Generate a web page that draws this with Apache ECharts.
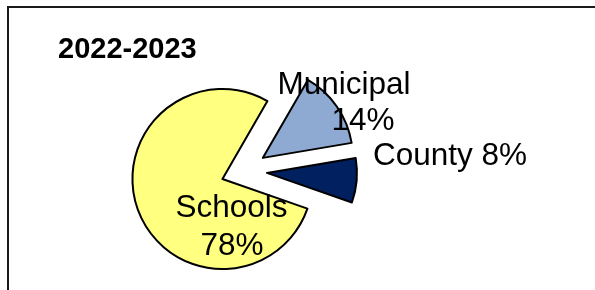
<!DOCTYPE html>
<html><head><meta charset="utf-8">
<script src="https://cdn.jsdelivr.net/npm/echarts@6/dist/echarts.min.js"></script>
<style>html,body{margin:0;padding:0;background:#fff}#c{width:595px;height:290px}</style>
</head><body><div id="c"></div>
<script>
const categories = ['Municipal', 'County', 'Schools'];
const shares = [14, 8, 78];
const sliceColors = ['#8EAAD2', '#002060', '#FFFF80'];
const titleText = '2022-2023';

const FONT = '"Liberation Sans", Arial, sans-serif';
// label line anchors (centre x, middle y) for each category; Municipal/Schools wrap to two lines
const labelLines = {
  Municipal: [[344, 85], [363, 121]],
  County: [[450, 156]],
  Schools: [[231.5, 208.5], [232, 246]]
};

const labelGraphics = [];
categories.forEach(function (c, i) {
  const pos = labelLines[c];
  const texts = pos.length === 2 ? [c, shares[i] + '%'] : [c + ' ' + shares[i] + '%'];
  texts.forEach(function (t, k) {
    labelGraphics.push({
      type: 'text', x: pos[k][0], y: pos[k][1], z: 100, silent: true,
      style: { text: t, fill: '#000', fontFamily: FONT, fontSize: 31.5, align: 'center', verticalAlign: 'middle' }
    });
  });
});

const chart = echarts.init(document.getElementById('c'), null, { renderer: 'canvas' });
chart.setOption({
  animation: false,
  backgroundColor: '#fff',
  title: {
    text: titleText, left: 53, top: 30,
    textStyle: { fontSize: 29, fontWeight: 'bold', color: '#000', fontFamily: FONT }
  },
  graphic: [{
    type: 'rect', shape: { x: 8, y: 7, width: 620, height: 320 },
    style: { fill: 'none', stroke: '#1a1a1a', lineWidth: 2 }, silent: true, z: 100
  }].concat(labelGraphics),
  series: [{
    type: 'pie',
    center: [244, 171],
    radius: 90,
    startAngle: 60,
    clockwise: true,
    selectedMode: 'multiple',
    selectedOffset: 23,
    avoidLabelOverlap: false,
    emphasis: { disabled: true },
    itemStyle: { borderColor: '#000', borderWidth: 2 },
    select: { itemStyle: { borderColor: '#000', borderWidth: 2 } },
    label: { show: false },
    labelLine: { show: false },
    data: categories.map(function (c, i) {
      return {
        name: c, value: shares[i], selected: true,
        itemStyle: { color: sliceColors[i] },
        select: { itemStyle: { color: sliceColors[i] } }
      };
    })
  }]
});
</script></body></html>
